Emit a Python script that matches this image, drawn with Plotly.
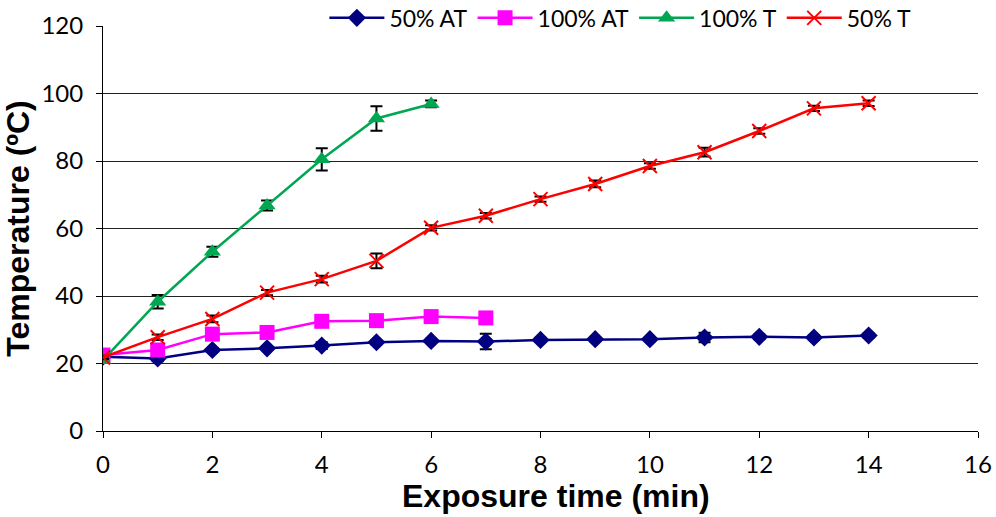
import plotly.graph_objects as go

time_50AT = list(range(0, 15))
temp_50AT = [22.0, 21.5, 24.0, 24.5, 25.3, 26.3, 26.7, 26.5, 27.0, 27.2, 27.2, 27.7, 27.9, 27.7, 28.3]
err_50AT = [0.5, 0.8, 0.5, 0.5, 1.0, 0.6, 0.6, 2.3, 0.6, 0.6, 0.6, 1.4, 0.7, 0.7, 0.6]

time_100AT = list(range(0, 8))
temp_100AT = [22.5, 24.0, 28.7, 29.2, 32.5, 32.7, 33.9, 33.5]
err_100AT = [0, 0, 0, 0, 0, 0, 0, 0]

time_100T = list(range(0, 7))
temp_100T = [21.0, 38.3, 53.1, 66.8, 80.5, 92.6, 96.9]
err_100T = [0.5, 2.0, 1.5, 1.5, 3.3, 3.6, 1.0]

time_50T = list(range(0, 15))
temp_50T = [21.8, 27.8, 33.2, 41.0, 45.0, 50.4, 60.2, 63.8, 68.7, 73.2, 78.5, 82.6, 88.9, 95.6, 97.1]
err_50T = [0.5, 0.8, 1.0, 0.8, 1.0, 2.2, 0.8, 0.8, 0.8, 1.0, 0.8, 1.3, 0.8, 0.8, 0.8]

x_ticks = [0, 2, 4, 6, 8, 10, 12, 14, 16]
y_ticks = [0, 20, 40, 60, 80, 100, 120]

x_title = "Exposure time (min)"
y_title = "Temperature (ºC)"

fig = go.Figure()

def err(vals):
    return dict(type="data", array=vals, visible=True, color="black", thickness=2, width=6)

fig.add_trace(go.Scatter(x=time_50AT, y=temp_50AT, name="50% AT", mode="lines+markers",
                         line=dict(color="#000080", width=2.5),
                         marker=dict(symbol="diamond", size=14, color="#000080"),
                         error_y=err(err_50AT)))
fig.add_trace(go.Scatter(x=time_100AT, y=temp_100AT, name="100% AT", mode="lines+markers",
                         line=dict(color="#FF00FF", width=2.5),
                         marker=dict(symbol="square", size=15, color="#FF00FF"),
                         error_y=err(err_100AT)))
fig.add_trace(go.Scatter(x=time_100T, y=temp_100T, name="100% T", mode="lines+markers",
                         line=dict(color="#00A651", width=2.5),
                         marker=dict(symbol="triangle-up", size=15, color="#00A651"),
                         error_y=err(err_100T)))
fig.add_trace(go.Scatter(x=time_50T, y=temp_50T, name="50% T", mode="lines+markers",
                         line=dict(color="#FF0000", width=2.5),
                         marker=dict(symbol="x-thin", size=14, color="#FF0000",
                                     line=dict(color="#FF0000", width=2)),
                         error_y=err(err_50T)))

fig.update_layout(
    width=996, height=517,
    margin=dict(l=103, r=18, t=26, b=86, autoexpand=False),
    paper_bgcolor="white", plot_bgcolor="white",
    font=dict(family="Lato, Open Sans, sans-serif", size=24, color="black"),
    legend=dict(orientation="h", x=0.253, y=1.02, xanchor="left", yanchor="middle",
                bgcolor="white", font=dict(size=23), itemwidth=55,
                tracegroupgap=0),
    xaxis=dict(range=[0, 16], tickvals=x_ticks, ticktext=[str(v) for v in x_ticks],
               showline=True, linecolor="black", linewidth=1, ticks="outside",
               ticklen=6, tickcolor="black", showgrid=False, zeroline=False,
               tickfont=dict(size=24), automargin=False, ticklabelstandoff=6),
    yaxis=dict(range=[0, 120], tickvals=y_ticks, ticktext=[str(v) for v in y_ticks],
               showline=True, linecolor="black", linewidth=1, ticks="outside",
               ticklen=6, tickcolor="black", showgrid=True, gridcolor="#222222",
               gridwidth=1, zeroline=False, tickfont=dict(size=24), automargin=False,
               ticklabelstandoff=8,
               title=dict(text="<b>" + y_title + "</b>",
                          font=dict(family="Liberation Sans, Arial", size=32, color="black"),
                          standoff=4)),
    annotations=[dict(text="<b>" + x_title + "</b>", xref="paper", yref="paper",
                      x=0.518, y=-0.16, xanchor="center", yanchor="middle",
                      showarrow=False,
                      font=dict(family="Liberation Sans, Arial", size=32, color="black"))],
)

fig.write_html("out.html")
